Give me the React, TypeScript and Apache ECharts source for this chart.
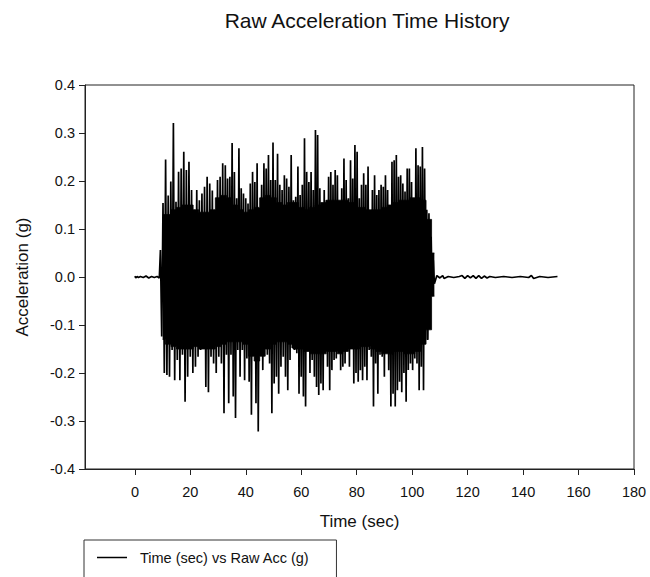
import React, { useEffect, useRef } from "react";
import * as echarts from "echarts";

const TITLE = "Raw Acceleration Time History";
const X_NAME = "Time (sec)";
const Y_NAME = "Acceleration (g)";
const SERIES_NAME = "Time (sec) vs Raw Acc (g)";

const X_MIN = -18;
const X_MAX = 180;
const Y_MIN = -0.4;
const Y_MAX = 0.4;
const Y_STEP = 0.1;

// quiet record before the shaking starts
const quietBeforeTime = [0, 0.3, 0.8, 1.3, 2, 3, 4, 5, 6, 7, 8, 8.8];
const quietBeforeAcc = [0.002, -0.002, 0.001, -0.001, 0.001, -0.001, 0.002, -0.002, 0.001, -0.001, 0.001, -0.002];

// strong-motion burst: time bounds of four stretches, peak values
const burstBounds = [9.2, 32.6, 58.0, 83.3, 108.4];

const burstUpper1 = [0.056, 0.154, 0.245, 0.17, 0.199, 0.321, 0.157, 0.219, 0.226, 0.261, 0.223, 0.24, 0.181, 0.14, 0.181, 0.16, 0.174, 0.188, 0.209, 0.195, 0.18, 0.14, 0.202, 0.209, 0.237];
const burstLower1 = [-0.124, -0.2, -0.204, -0.208, -0.152, -0.215, -0.173, -0.215, -0.162, -0.26, -0.208, -0.166, -0.2, -0.187, -0.166, -0.152, -0.131, -0.229, -0.24, -0.166, -0.18, -0.2, -0.166, -0.18, -0.284];

const burstUpper2 = [0.233, 0.205, 0.209, 0.279, 0.219, 0.164, 0.268, 0.185, 0.174, 0.164, 0.153, 0.195, 0.219, 0.198, 0.237, 0.108, 0.192, 0.237, 0.226, 0.254, 0.202, 0.28, 0.202, 0.257, 0.192, 0.181, 0.212, 0.205, 0.188, 0.254, 0.16];
const burstLower2 = [-0.162, -0.263, -0.162, -0.249, -0.294, -0.152, -0.208, -0.152, -0.215, -0.17, -0.218, -0.287, -0.155, -0.263, -0.322, -0.131, -0.194, -0.148, -0.162, -0.18, -0.284, -0.222, -0.208, -0.243, -0.187, -0.166, -0.208, -0.236, -0.173, -0.148, -0.152];

const burstUpper3 = [0.167, 0.23, 0.171, 0.192, 0.289, 0.219, 0.198, 0.219, 0.181, 0.306, 0.296, 0.185, 0.14, 0.181, 0.16, 0.209, 0.219, 0.192, 0.223, 0.212, 0.157, 0.185, 0.247, 0.202, 0.164, 0.243, 0.205, 0.275, 0.261, 0.164, 0.192, 0.216];
const burstLower3 = [-0.159, -0.243, -0.208, -0.249, -0.27, -0.138, -0.2, -0.173, -0.208, -0.229, -0.246, -0.222, -0.236, -0.145, -0.187, -0.236, -0.194, -0.173, -0.17, -0.124, -0.194, -0.187, -0.18, -0.148, -0.187, -0.138, -0.222, -0.2, -0.218, -0.194, -0.215, -0.187];

const burstUpper4 = [0.192, 0.23, 0.126, 0.181, 0.212, 0.171, 0.181, 0.192, 0.188, 0.212, 0.181, 0.15, 0.24, 0.243, 0.254, 0.209, 0.212, 0.195, 0.178, 0.226, 0.226, 0.198, 0.153, 0.268, 0.233, 0.23, 0.271, 0.226, 0.14, 0.133, 0.084, 0.035];
const burstLower4 = [-0.215, -0.152, -0.166, -0.27, -0.18, -0.243, -0.162, -0.166, -0.208, -0.107, -0.194, -0.27, -0.243, -0.27, -0.236, -0.218, -0.24, -0.2, -0.26, -0.194, -0.18, -0.194, -0.17, -0.18, -0.236, -0.187, -0.236, -0.131, -0.131, -0.069, -0.04, -0.014];

// dense core of the burst (where the trace is solid black), every 2 s from 10 s
const coreStart = 10;
const coreStep = 2;
const coreUpper = [0.13, 0.13, 0.14, 0.145, 0.15, 0.15, 0.14, 0.135, 0.135, 0.14, 0.165, 0.17, 0.165, 0.15, 0.14, 0.135, 0.14, 0.145, 0.165, 0.17, 0.165, 0.155, 0.15, 0.155, 0.155, 0.145, 0.14, 0.145, 0.15, 0.155, 0.16, 0.16, 0.16, 0.16, 0.155, 0.145, 0.145, 0.14, 0.14, 0.14, 0.145, 0.15, 0.155, 0.16, 0.16, 0.165, 0.165, 0.16, 0.12, 0.05];
const coreLower = [-0.13, -0.14, -0.145, -0.15, -0.15, -0.15, -0.145, -0.15, -0.15, -0.15, -0.145, -0.14, -0.135, -0.135, -0.135, -0.14, -0.165, -0.175, -0.165, -0.15, -0.14, -0.135, -0.135, -0.14, -0.15, -0.15, -0.155, -0.16, -0.16, -0.16, -0.155, -0.155, -0.16, -0.155, -0.15, -0.15, -0.145, -0.145, -0.15, -0.155, -0.16, -0.16, -0.155, -0.155, -0.16, -0.16, -0.155, -0.14, -0.11, -0.04];

// quiet record after the shaking
const quietAfterTime = [108.9, 110, 111, 111.5, 113, 115, 117, 118, 119, 120, 121, 122, 123, 124, 125, 126, 127, 128, 130, 133, 136, 139, 142, 143, 143.8, 146, 149, 152.4];
const quietAfterAcc = [0.003, -0.002, 0.003, -0.003, 0.001, -0.001, 0.001, 0.003, -0.003, 0.003, -0.002, 0.003, -0.003, 0.003, -0.003, 0.002, -0.002, 0.001, -0.001, 0.001, -0.001, 0.001, -0.001, 0.003, -0.003, 0.001, -0.001, 0.001];

const burstUppers = [burstUpper1, burstUpper2, burstUpper3, burstUpper4];
const burstLowers = [burstLower1, burstLower2, burstLower3, burstLower4];

function buildTrace(): number[][] {
  const pts: number[][] = [];
  quietBeforeTime.forEach((t, i) => pts.push([t, quietBeforeAcc[i]]));
  for (let s = 0; s < burstUppers.length; s++) {
    const up = burstUppers[s];
    const low = burstLowers[s];
    const t0 = burstBounds[s];
    const t1 = burstBounds[s + 1];
    const n = up.length;
    const dt = (t1 - t0) / n;
    for (let i = 0; i < n; i++) {
      pts.push([t0 + i * dt, up[i]]);
      pts.push([t0 + (i + 0.5) * dt, low[i]]);
    }
  }
  quietAfterTime.forEach((t, i) => pts.push([t, quietAfterAcc[i]]));
  return pts;
}

const corePoints = (vals: number[]) => vals.map((v, i) => [coreStart + i * coreStep, v]);

const FONT = "'Liberation Sans', Arial, sans-serif";

export default function App() {
  const ref = useRef<HTMLDivElement>(null);
  useEffect(() => {
    if (!ref.current) return;
    const chart = echarts.init(ref.current, null, { renderer: "svg" });
    const coreSeries = (vals: number[]) => ({
      name: SERIES_NAME,
      type: "line",
      data: corePoints(vals),
      showSymbol: false,
      symbol: "none",
      step: "middle",
      lineStyle: { color: "#000", width: 0.8 },
      itemStyle: { color: "#000" },
      areaStyle: { color: "#000", opacity: 1, origin: 0 },
      z: 1,
    });
    chart.setOption({
      animation: false,
      backgroundColor: "#fff",
      title: {
        text: TITLE,
        left: 362,
        top: 5,
        textAlign: "center",
        textStyle: { fontFamily: FONT, fontSize: 21, fontWeight: "normal", color: "#111" },
      },
      legend: {
        data: [SERIES_NAME],
        left: 84,
        top: 540,
        orient: "horizontal",
        padding: [10, 27, 20, 13],
        borderColor: "#333",
        borderWidth: 1,
        itemWidth: 30,
        itemHeight: 1.5,
        icon: "rect",
        textStyle: { fontFamily: FONT, fontSize: 14.5, color: "#111", padding: [0, 0, 0, 8] },
      },
      grid: {
        left: 85,
        right: 16,
        top: 85,
        bottom: 108,
        show: true,
        borderColor: "#222",
        borderWidth: 1,
        backgroundColor: "transparent",
      },
      xAxis: {
        type: "value",
        min: X_MIN,
        max: X_MAX,
        splitNumber: 10,
        name: X_NAME,
        nameLocation: "middle",
        nameGap: 44,
        nameTextStyle: { fontFamily: FONT, fontSize: 17, color: "#111" },
        axisLine: { show: true, onZero: false, lineStyle: { color: "#222", width: 1 } },
        axisTick: { show: true, inside: false, length: 6, lineStyle: { color: "#222" } },
        axisLabel: {
          showMinLabel: false,
          margin: 15,
          fontFamily: FONT,
          fontSize: 14.5,
          color: "#111",
          formatter: (v: number) => (Math.abs(v % 20) < 1e-9 ? String(Math.round(v)) : ""),
        },
        splitLine: { show: false },
      },
      yAxis: {
        type: "value",
        min: Y_MIN,
        max: Y_MAX,
        interval: Y_STEP,
        name: Y_NAME,
        nameLocation: "middle",
        nameGap: 54,
        nameTextStyle: { fontFamily: FONT, fontSize: 17, color: "#111" },
        axisLine: { show: true, onZero: false, lineStyle: { color: "#222", width: 1 } },
        axisTick: { show: true, inside: false, length: 6, lineStyle: { color: "#222" } },
        axisLabel: {
          margin: 10,
          fontFamily: FONT,
          fontSize: 14.5,
          color: "#111",
          formatter: (v: number) => (Math.abs(v) < 1e-9 ? "0.0" : v.toFixed(1)),
        },
        splitLine: { show: false },
      },
      series: [
        coreSeries(coreUpper),
        coreSeries(coreLower),
        {
          name: SERIES_NAME,
          type: "line",
          data: buildTrace(),
          showSymbol: false,
          symbol: "none",
          lineStyle: { color: "#000", width: 1.7 },
          itemStyle: { color: "#000" },
          z: 2,
        },
      ],
    });
    return () => chart.dispose();
  }, []);
  return <div ref={ref} style={{ width: 650, height: 577, position: "absolute", left: 0, top: 0 }} />;
}
